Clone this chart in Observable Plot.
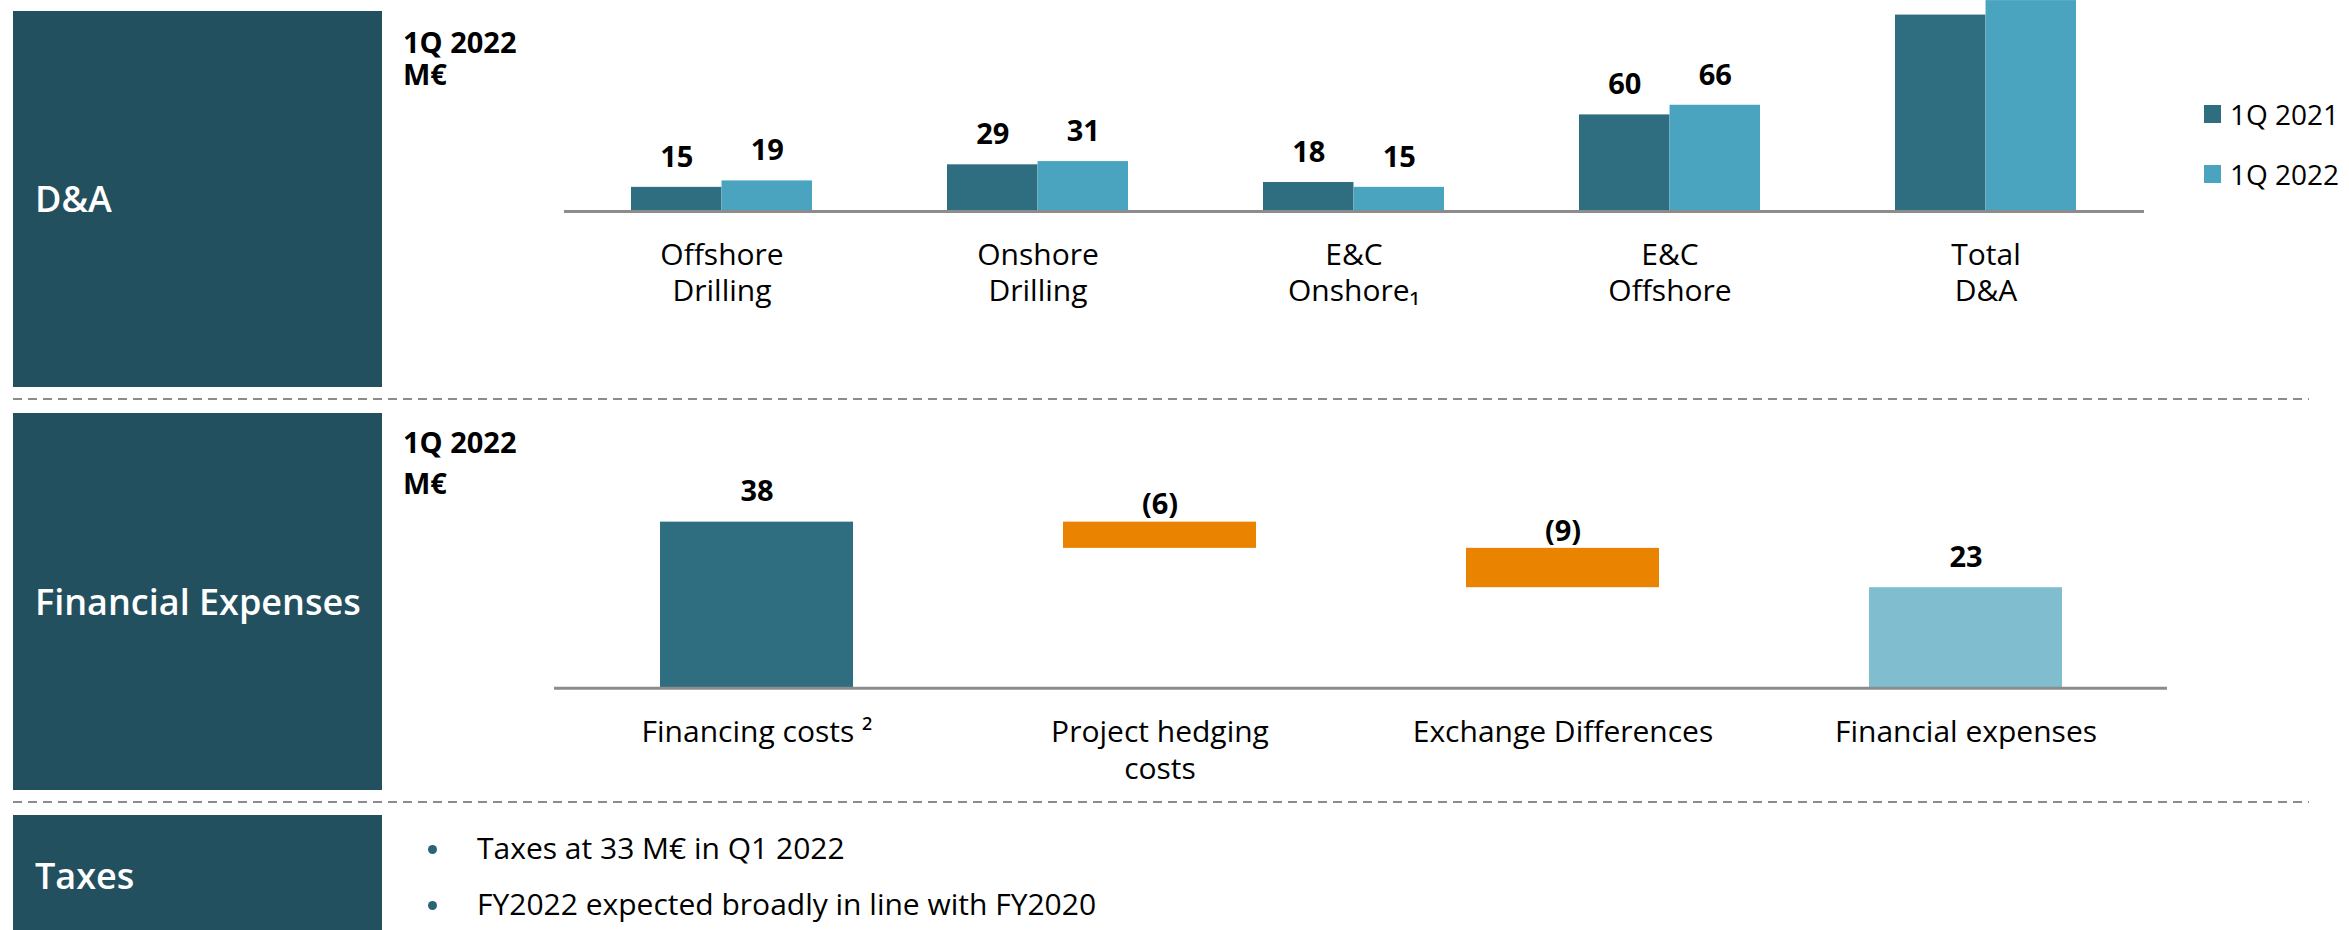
<!DOCTYPE html>
<html><head><meta charset="utf-8">
<script src="https://cdn.jsdelivr.net/npm/d3@7"></script>
<script src="https://cdn.jsdelivr.net/npm/@observablehq/plot@0.6"></script>
<style>
html,body{margin:0;padding:0;background:#fff;}
body{width:2349px;height:930px;overflow:hidden;position:relative;font-family:"Open Sans",sans-serif;color:#000;}
.abs{position:absolute;line-height:1;white-space:nowrap;z-index:3}
.box{position:absolute;left:13px;width:369px;background:#23505F;color:#fff;font-weight:600;font-size:36px;line-height:1;display:flex;align-items:center;padding-left:22px;box-sizing:border-box;z-index:2}
.head{font-weight:700;font-size:29px}
.chart{position:absolute;left:0;z-index:1}
.sw{position:absolute;width:17px;height:18px;z-index:3}
.dot{position:absolute;width:9px;height:9px;border-radius:50%;background:#2A6575;z-index:3}
</style></head><body>
<script>
// ---------- data ----------
const daCategories = ["Offshore\nDrilling", "Onshore\nDrilling", "E&C\nOnshore\u2081", "E&C\nOffshore", "Total\nD&A"];
const daSeries = ["1Q 2021", "1Q 2022"];
const da2021 = [15, 29, 18, 60, 122];
const da2022 = [19, 31, 15, 66, 131];
const daColors = ["#2E6E80", "#4AA3BF"];
// value labels of the total group sit above the visible area in the reference
const daLabelledCategories = daCategories.slice(0, 4);

const feCategories = ["Financing costs \u00B2", "Project hedging\ncosts", "Exchange Differences", "Financial expenses"];
const feValues = [38, -6, -9, 23];
const feKinds = ["total", "delta", "delta", "total"];
const feLabels = ["38", "(6)", "(9)", "23"];
const feColors = ["#2E6E80", "#E98300", "#E98300", "#80BECF"];

const sectionTitles = ["D&A", "Financial Expenses", "Taxes"];
const unitLines = ["1Q 2022", "M\u20AC"];
const taxBullets = ["Taxes at 33 M\u20AC in Q1 2022", "FY2022 expected broadly in line with FY2020"];

// ---------- layout helpers ----------
const W = 2349;
const body = document.body;
function el(tag, cls, style, text) {
  const e = document.createElement(tag);
  if (cls) e.className = cls;
  Object.assign(e.style, style || {});
  if (text != null) e.textContent = text;
  body.appendChild(e);
  return e;
}

// section boxes
el("div", "box", {top: "11px", height: "376px"}, sectionTitles[0]);
el("div", "box", {top: "413px", height: "377px"}, sectionTitles[1]);
el("div", "box", {top: "815px", height: "115px", paddingTop: "6px"}, sectionTitles[2]);

// dashed separators
const ns = "http://www.w3.org/2000/svg";
const sep = document.createElementNS(ns, "svg");
sep.setAttribute("width", W); sep.setAttribute("height", 930);
Object.assign(sep.style, {position: "absolute", left: "0px", top: "0px", zIndex: 0});
[399, 802].forEach(y => {
  const l = document.createElementNS(ns, "line");
  l.setAttribute("x1", 13); l.setAttribute("x2", 2309);
  l.setAttribute("y1", y); l.setAttribute("y2", y);
  l.setAttribute("stroke", "#8C8C8C"); l.setAttribute("stroke-width", 2);
  l.setAttribute("stroke-dasharray", "9 6");
  sep.appendChild(l);
});
body.appendChild(sep);

// unit headings
el("div", "abs head", {left: "403px", top: "27px"}, unitLines[0]);
el("div", "abs head", {left: "403px", top: "59px"}, unitLines[1]);
el("div", "abs head", {left: "403px", top: "427px"}, unitLines[0]);
el("div", "abs head", {left: "403px", top: "468px"}, unitLines[1]);

// ---------- D&A grouped bars ----------
const daRows = daCategories.flatMap((c, i) => [
  {cat: c, series: daSeries[0], value: da2021[i]},
  {cat: c, series: daSeries[1], value: da2022[i]}
]);
const daML = 564, daMR = 205, daPI = 0.427, daPO = 0.2135;
const daStep = (W - daML - daMR) / (daCategories.length - daPI + 2 * daPO);
const daBW = daStep * (1 - daPI);
const s0 = daRows.filter(d => d.series === daSeries[0]);
const s1 = daRows.filter(d => d.series === daSeries[1]);
const lab0 = s0.filter(d => daLabelledCategories.includes(d.cat));
const lab1 = s1.filter(d => daLabelledCategories.includes(d.cat));

const daPlot = Plot.plot({
  width: W, height: 386,
  marginLeft: daML, marginRight: daMR, marginTop: 50, marginBottom: 175,
  style: {background: "transparent", fontFamily: "'Open Sans', sans-serif", fontSize: "30px", color: "#000", overflow: "hidden"},
  x: {domain: daCategories, paddingInner: daPI, paddingOuter: daPO, axis: null},
  y: {domain: [0, 100], axis: null},
  marks: [
    Plot.barY(s0, {x: "cat", y: "value", fill: daColors[0], insetRight: daBW / 2}),
    Plot.barY(s1, {x: "cat", y: "value", fill: daColors[1], insetLeft: daBW / 2}),
    Plot.text(lab0, {x: "cat", y: "value", text: d => String(d.value), dx: -daBW / 4, dy: -30, fontWeight: "bold", fontSize: 29, fill: "#000"}),
    Plot.text(lab1, {x: "cat", y: "value", text: d => String(d.value), dx: daBW / 4, dy: -30, fontWeight: "bold", fontSize: 29, fill: "#000"}),
    Plot.ruleY([0], {stroke: "#8C8C8C", strokeWidth: 3}),
    Plot.axisX({tickSize: 0, tickPadding: 27, fontSize: 30, lineHeight: 1.22, fill: "#000", label: null})
  ]
});
const daWrap = el("div", "chart", {top: "0px"});
daWrap.appendChild(daPlot);

// legend
daSeries.forEach((s, i) => {
  el("div", "sw", {left: "2204px", top: (105 + i * 60) + "px", background: daColors[i]});
  el("div", "abs", {left: "2230px", top: (100 + i * 60) + "px", fontSize: "28px"}, s);
});

// ---------- Financial expenses waterfall ----------
let run = 0;
const feRows = feCategories.map((c, i) => {
  let y1, y2;
  if (feKinds[i] === "total") { y1 = 0; y2 = feValues[i]; run = feValues[i]; }
  else { y1 = run + feValues[i]; y2 = run; run = y1; }
  return {cat: c, y1, y2, top: Math.max(y1, y2), label: feLabels[i], color: feColors[i], kind: feKinds[i]};
});

const fePlot = Plot.plot({
  width: W, height: 400,
  marginLeft: 554, marginRight: 182, marginTop: 112.9, marginBottom: 112.3,
  style: {background: "transparent", fontFamily: "'Open Sans', sans-serif", fontSize: "30px", color: "#000"},
  x: {domain: feCategories, paddingInner: 0.5215, paddingOuter: 0.26, axis: null},
  y: {domain: [0, 40], axis: null},
  color: {type: "identity"},
  marks: [
    Plot.barY(feRows, {x: "cat", y1: "y1", y2: "y2", fill: "color"}),
    Plot.text(feRows.filter(d => d.kind === "total"), {x: "cat", y: "top", text: "label", dy: -30, fontWeight: "bold", fontSize: 29, fill: "#000"}),
    Plot.text(feRows.filter(d => d.kind === "delta"), {x: "cat", y: "top", text: "label", dy: -17, fontWeight: "bold", fontSize: 29, fill: "#000"}),
    Plot.ruleY([0], {stroke: "#8C8C8C", strokeWidth: 3}),
    Plot.axisX({tickSize: 0, tickPadding: 27, fontSize: 30, lineHeight: 1.25, fill: "#000", label: null})
  ]
});
const feWrap = el("div", "chart", {top: "400px"});
feWrap.appendChild(fePlot);

// ---------- Taxes bullets ----------
taxBullets.forEach((t, i) => {
  el("div", "dot", {left: "428px", top: (845 + i * 56) + "px"});
  el("div", "abs", {left: "477px", top: (833 + i * 56) + "px", fontSize: "30px"}, t);
});
</script>
</body></html>
